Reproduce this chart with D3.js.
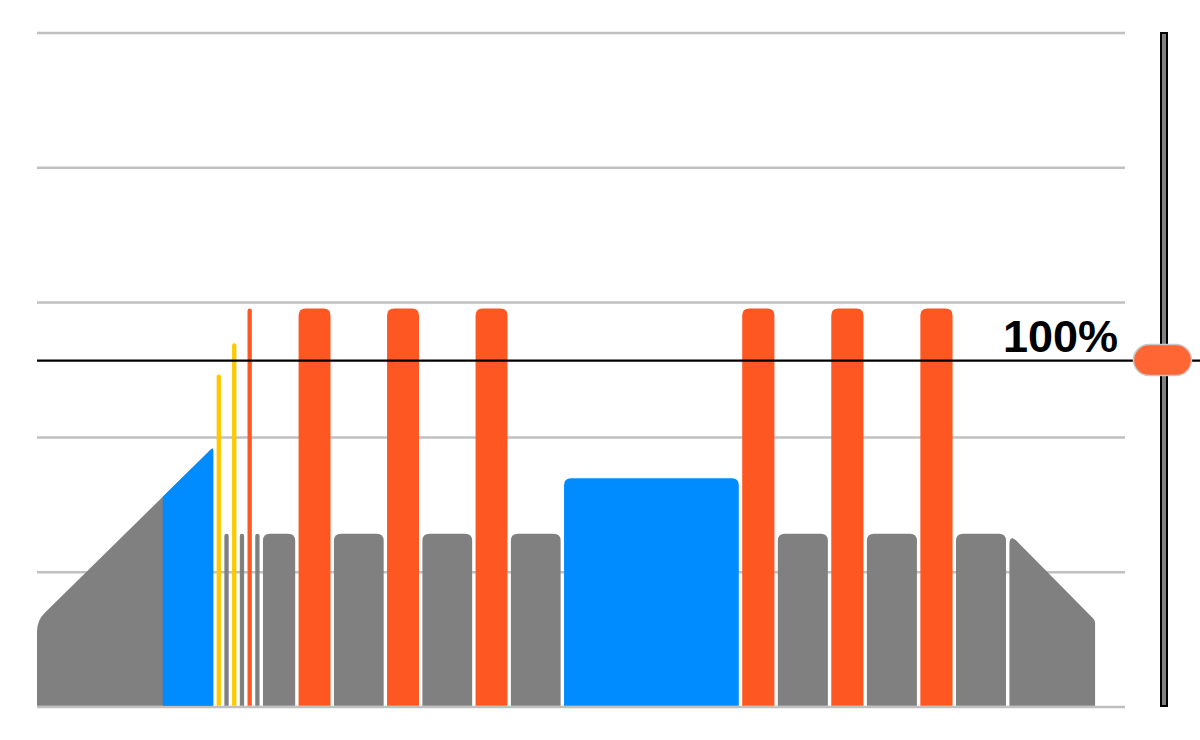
<!DOCTYPE html>
<html><head><meta charset="utf-8">
<script src="https://cdn.jsdelivr.net/npm/d3@7"></script>
<style>html,body{margin:0;padding:0;background:#fff;} svg{display:block}</style>
</head><body><svg id="c" width="1200" height="740"></svg>
<script>
// ---- data ----
const ftpWatts = 257;                       // FTP (100%) in watts
const gridWatts = [0, 100, 200, 300, 400, 500];
const ftpLabel = "100%";
// workout segments: duration (s), start % FTP, end % FTP, zone
const segDur   = [605, 26, 26, 26, 26, 26, 26, 120, 119, 179, 119, 179, 119, 179, 600, 120, 180, 120, 180, 120, 180, 300];
const segStart = [25,  96, 50, 105, 50, 115, 50, 50, 115, 50, 115, 50, 115, 50, 66, 115, 50, 115, 50, 115, 50, 50];
const segEnd   = [75,  96, 50, 105, 50, 115, 50, 50, 115, 50, 115, 50, 115, 50, 66, 115, 50, 115, 50, 115, 50, 25];
const segZone  = ["ramp","z4","z1","z4","z1","z5","z1","z1","z5","z1","z5","z1","z5","z1","z2","z5","z1","z5","z1","z5","z1","z1"];
const rampZones = ["z1", "z2"];
const rampSplitPct = 60;
const zoneColors = { z1: "#808080", z2: "#008cff", z4: "#ffc800", z5: "#ff5722" };

// ---- layout ----
const svg = d3.select("#c");
const total = d3.sum(segDur);
const x = d3.scaleLinear().domain([0, total]).range([37, 1098.5]);
const y = d3.scaleLinear().domain([0, 500]).range([707, 33]);
const pct2w = p => p / 100 * ftpWatts;
const gap = 3.4;

// gridlines
svg.append("g").selectAll("line").data(gridWatts).join("line")
  .attr("x1", 37).attr("x2", 1125)
  .attr("y1", d => y(d)).attr("y2", d => y(d))
  .attr("stroke", "#c0c0c0").attr("stroke-width", 2.5);

// segments
let t = 0;
const segs = segDur.map((d, i) => {
  const s = { t0: t, t1: t + d, p0: segStart[i], p1: segEnd[i], zone: segZone[i], i };
  t += d; return s;
});

function segPath(s) {
  const x0 = x(s.t0), x1 = x(s.t1) - gap;
  const y0 = y(pct2w(s.p0)), y1 = y(pct2w(s.p1));
  const base = y(0) - 1.2;
  const ramp = s.p0 !== s.p1;
  const rl = Math.min(ramp ? 11 : 7, (x1 - x0) / 2);
  const rr = Math.min(ramp ? 3 : 7, (x1 - x0) / 2);
  const dx = x1 - x0, dy = y1 - y0, L = Math.hypot(dx, dy);
  const ux = dx / L, uy = dy / L;
  const p = d3.path();
  p.moveTo(x0, base);
  p.lineTo(x0, y0 + rl);
  p.quadraticCurveTo(x0, y0, x0 + ux * rl, y0 + uy * rl);
  p.lineTo(x1 - ux * rr, y1 - uy * rr);
  p.quadraticCurveTo(x1, y1, x1, y1 + rr);
  p.lineTo(x1, base);
  p.closePath();
  return p.toString();
}

const gBars = svg.append("g");
segs.forEach(s => {
  if (s.zone === "ramp") {
    const tSplit = s.t0 + (s.t1 - s.t0) * (rampSplitPct - s.p0) / (s.p1 - s.p0);
    const cid = "clip" + s.i;
    svg.append("clipPath").attr("id", cid).append("rect")
      .attr("x", x(tSplit)).attr("y", 0).attr("width", 1200).attr("height", 740);
    gBars.append("path").attr("d", segPath(s)).attr("fill", zoneColors[rampZones[0]]);
    gBars.append("path").attr("d", segPath(s)).attr("fill", zoneColors[rampZones[1]])
      .attr("clip-path", `url(#${cid})`);
  } else {
    gBars.append("path").attr("d", segPath(s)).attr("fill", zoneColors[s.zone]);
  }
});

// FTP line
svg.append("line").attr("x1", 37).attr("x2", 1200)
  .attr("y1", y(ftpWatts)).attr("y2", y(ftpWatts))
  .attr("stroke", "#000").attr("stroke-width", 2.2);

svg.append("text").attr("x", 1118).attr("y", 352)
  .attr("text-anchor", "end")
  .attr("font-family", "'Liberation Sans', Arial, sans-serif")
  .attr("font-weight", "bold").attr("font-size", 45)
  .text(ftpLabel);

// slider
svg.append("rect").attr("x", 1161).attr("y", 33).attr("width", 6).attr("height", 673)
  .attr("fill", "#808080").attr("stroke", "#000").attr("stroke-width", 2);
svg.append("rect").attr("x", 1133.5).attr("y", y(ftpWatts) - 16).attr("width", 58).attr("height", 31)
  .attr("rx", 15.5).attr("fill", "#ff6633").attr("stroke", "#c8c8c8").attr("stroke-width", 1.5);
</script></body></html>
